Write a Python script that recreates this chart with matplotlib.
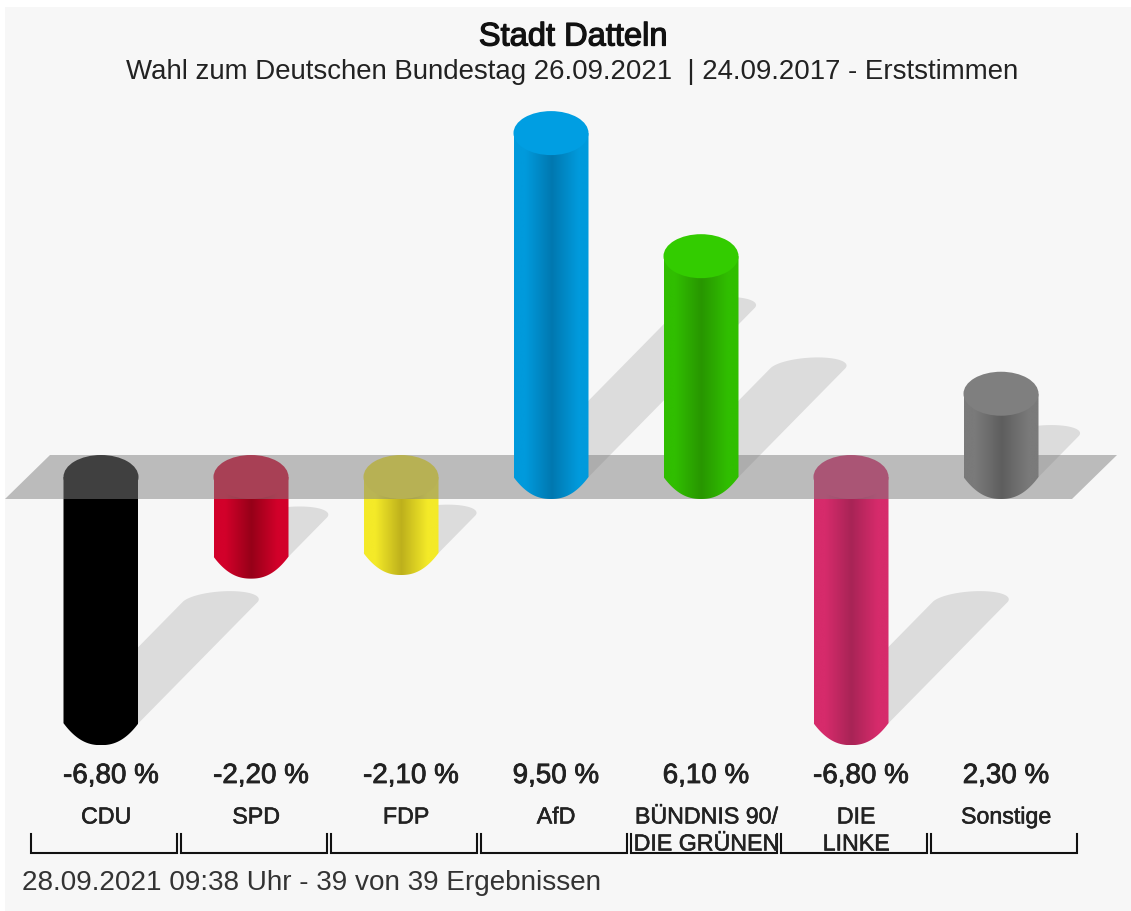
"""
Stadt Datteln - Erststimmen 2021 vs 2017, 3D style cylinders
"""

import numpy as np
import matplotlib
matplotlib.use("Agg")
import matplotlib.pyplot as plt
import matplotlib.patheffects as pe
from matplotlib.colors import LinearSegmentedColormap
from matplotlib.patches import Polygon, PathPatch, Ellipse, Rectangle
from matplotlib.path import Path

plt.rcParams["font.family"] = ["Liberation Sans", "DejaVu Sans"]

Parteien = ["CDU", "SPD", "FDP", "AfD", "BÜNDNIS 90/\nDIE GRÜNEN", "DIE\nLINKE", "Sonstige"]
Werte = [-6.80, -2.20, -2.10, 9.50, 6.10, -6.80, 2.30]
WerteText = ["-6,80 %", "-2,20 %", "-2,10 %", "9,50 %", "6,10 %", "-6,80 %", "2,30 %"]
Rand = ["#000000", "#D2002A", "#F4EA28", "#009ADC", "#30BE00", "#D62B6B", "#7A7A7A"]
Mitte = ["#000000", "#960018", "#BDB01C", "#0078B0", "#289600", "#A82456", "#5E5E5E"]
Deckel = ["#000000", "#D2002A", "#F0E428", "#009EE2", "#33CC00", "#D62B6B", "#7F7F7F"]

W, H = 1131, 911
ZERO = 477
PX_Y = 36.2    # pixels per percent
PX_X = 150     # pixels per party
X0 = 101
HALF_W = 37.5 / PX_X
CAP = 22 / PX_Y
SHADOW_X = 17.5 / PX_X
SHADOW_Y = 17.8 / PX_Y
SHADOW_CAP = 11 / PX_Y
SHADOW_SKEW = 10 / PX_X

fig = plt.figure(figsize=(W / 100, H / 100), dpi=100, facecolor="white")

# pixel axes for background, texts and brackets
Pix = fig.add_axes([0, 0, 1, 1], zorder=2)
Pix.set_xlim(0, W)
Pix.set_ylim(H, 0)
Pix.axis("off")
Pix.patch.set_alpha(0)

Ax = fig.add_axes([0, 0, 1, 1], zorder=1)
Ax.axis("off")


def Stroke(Width, Color):
    return [pe.withStroke(linewidth=Width, foreground=Color)]


def Shadow(i, V):
    # footprint of the bar sheared up to the right, end cap leaning right
    Base = min(V, 0)
    Dx = abs(V) * SHADOW_X
    Dy = abs(V) * SHADOW_Y
    T = np.linspace(0, np.pi, 40)
    CapX = i + Dx + HALF_W * np.cos(T) + SHADOW_SKEW * np.sin(T)
    CapY = Base + Dy + SHADOW_CAP * np.sin(T)
    Pts = [(i - HALF_W, Base), (i + HALF_W, Base)] + list(zip(CapX, CapY))
    Ax.add_patch(Polygon(Pts, closed=True, fc="#DCDCDC", ec="none", zorder=1))


def Bar(i, V, Z):
    Top = max(V, 0)
    Bot = min(V, 0)
    # lower end is a bit more chamfered than an ellipse
    T = np.linspace(np.pi, 2 * np.pi, 60)
    LowX = i + HALF_W * np.cos(T)
    LowY = Bot - CAP * (1 - np.abs(np.cos(T)) ** 2.3)
    Pts = list(zip(LowX, LowY)) + [(i + HALF_W, Top), (i - HALF_W, Top)]
    Clip = PathPatch(Path(np.array(Pts + [Pts[0]])), fc="none", ec="none", transform=Ax.transData)
    Ax.add_patch(Clip)
    Cm = LinearSegmentedColormap.from_list(
        "c", [(0, Rand[i]), (0.15, Rand[i]), (0.5, Mitte[i]), (0.85, Rand[i]), (1, Rand[i])])
    Grad = np.linspace(0, 1, 256).reshape(1, -1)
    Im = Ax.imshow(Grad, cmap=Cm, aspect="auto", zorder=Z, interpolation="bilinear",
                   extent=[i - HALF_W, i + HALF_W, Bot - CAP, Top])
    Im.set_clip_path(Clip)
    Ax.add_patch(Ellipse((i, Top), 2 * HALF_W, 2 * CAP, fc=Deckel[i], ec="none", zorder=Z + 0.1))


for i, V in enumerate(Werte):
    Shadow(i, V)

# cylinders below zero sit under the plane, the others on top of it
for i, V in enumerate(Werte):
    Bar(i, V, 2 if V < 0 else 4)

# grey zero plane, 44 px deep
Dp = 22 / PX_Y
Sk = 22.5 / PX_X
Left, Right = (5 - X0) / PX_X, (1072 - X0) / PX_X
Ax.add_patch(Polygon([(Left, -Dp), (Right, -Dp), (Right + 2 * Sk, Dp), (Left + 2 * Sk, Dp)],
                     closed=True, fc="#808080", ec="none", alpha=0.5, zorder=3))

Ax.set_xlim(-X0 / PX_X, (W - X0) / PX_X)
Ax.set_ylim(-(H - ZERO) / PX_Y, ZERO / PX_Y)

# page background with white margin
fig.patches.append(Rectangle((5 / W, 0), (W - 5) / W, 904 / H, transform=fig.transFigure,
                             fc="#F7F7F7", ec="none", zorder=-1))

Pix.text(573, 37, "Stadt Datteln", ha="center", va="center", fontsize=23.5, color="#111111",
         path_effects=Stroke(0.9, "#111111"))
Pix.text(572, 72, "Wahl zum Deutschen Bundestag 26.09.2021  | 24.09.2017 - Erststimmen",
         ha="center", va="center", fontsize=19.9, color="#222222")

for i, V in enumerate(Werte):
    Cx = X0 + i * PX_X
    Off = 10 if V < 0 else 5
    Pix.text(Cx + Off, 776, WerteText[i], ha="center", va="center", fontsize=20, color="#222222",
             path_effects=Stroke(0.6, "#222222"))
    Name = Parteien[i].split("\n")
    Pix.text(Cx + 5, 817, Name[0], ha="center", va="center", fontsize=16.7, color="#222222",
             path_effects=Stroke(0.4, "#222222"))
    if len(Name) > 1:
        Pix.text(Cx + 5, 844, Name[1], ha="center", va="center", fontsize=16.7, color="#222222",
                 path_effects=Stroke(0.4, "#222222"))
    L = Cx - 70
    Pix.plot([L, L, L + 145.5, L + 145.5], [834, 853, 853, 834], color="#111111", lw=1.5,
             solid_joinstyle="miter")

Pix.text(22, 883, "28.09.2021 09:38 Uhr - 39 von 39 Ergebnissen", ha="left", va="center",
         fontsize=20.1, color="#333333")

fig.savefig("out.png", dpi=100)
